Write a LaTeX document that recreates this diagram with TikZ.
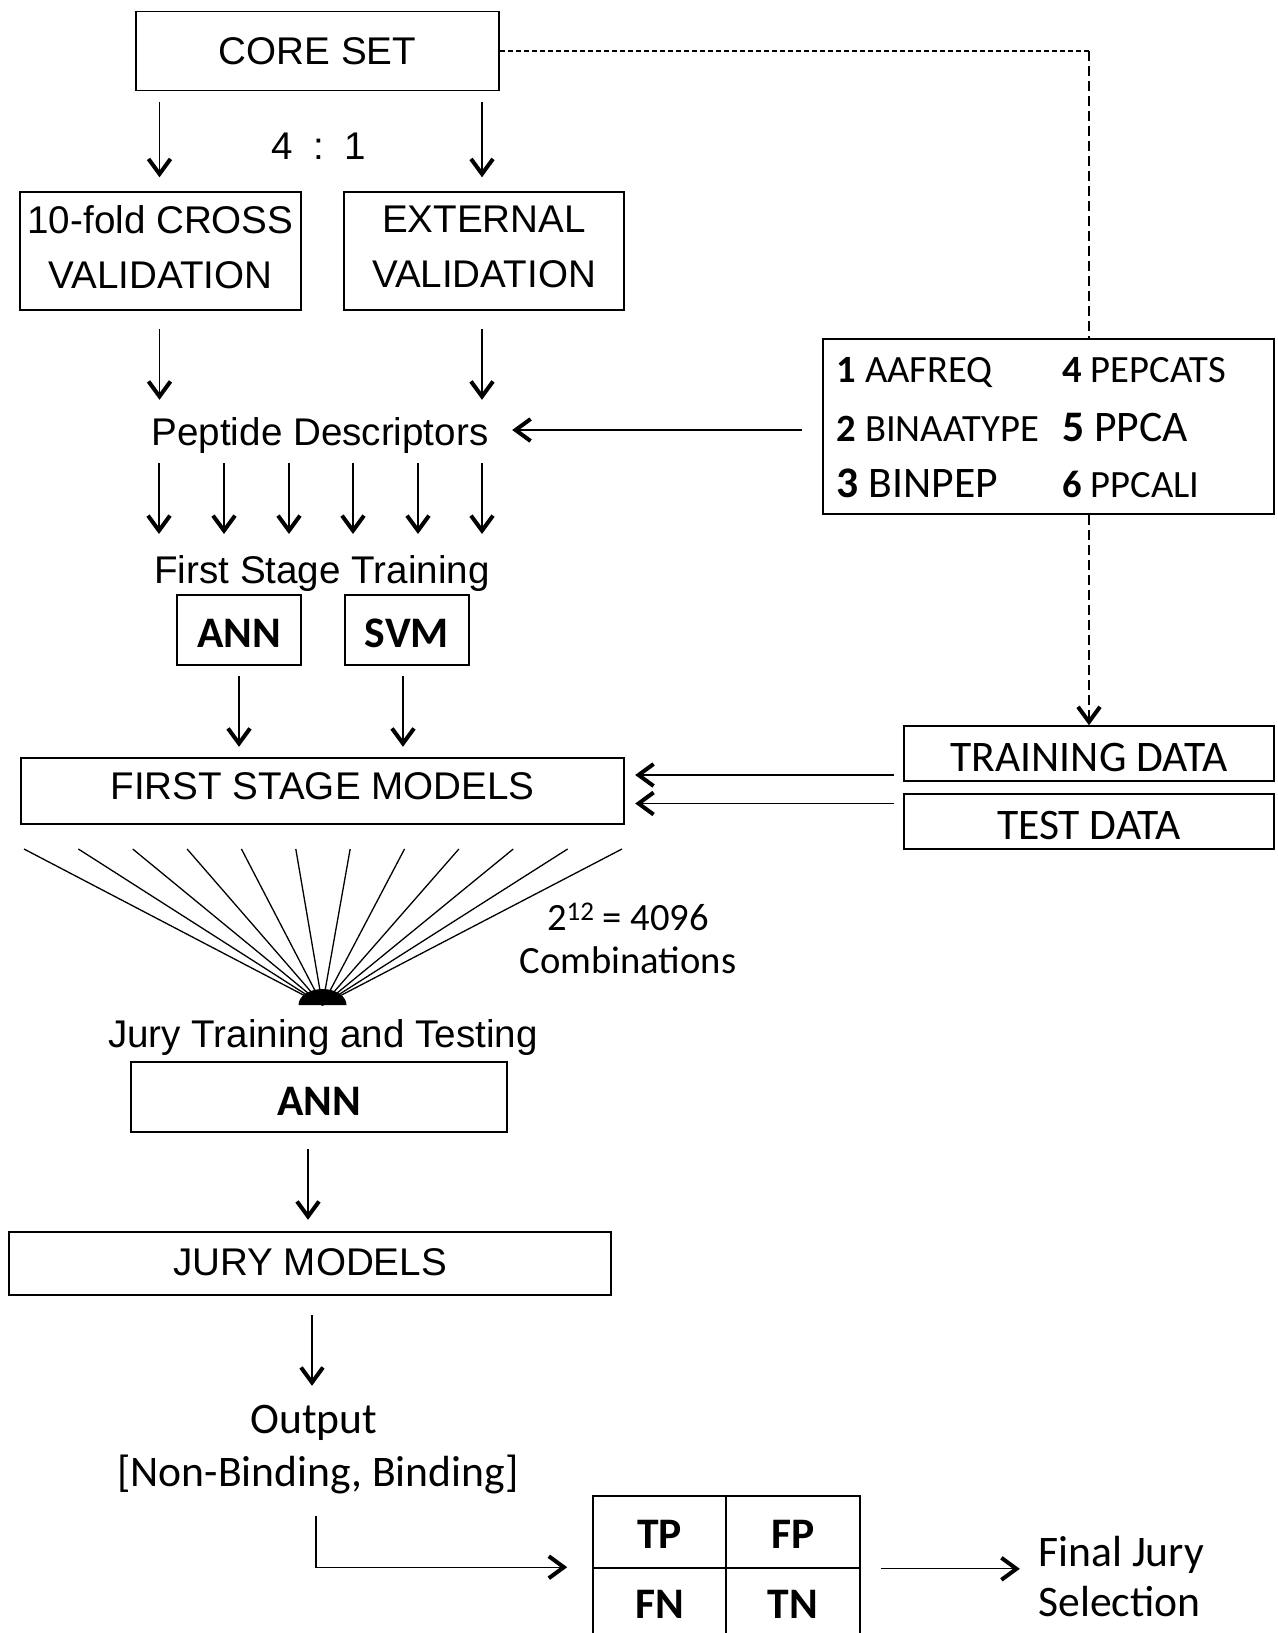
\documentclass[tikz,border=0pt]{standalone}
\usepackage{fontspec}
\setmainfont{Liberation Sans}
\newfontfamily\calib{Carlito}
\usetikzlibrary{arrows.meta,calc}
\tikzset{
 box/.style={draw, line width=0.8pt, inner sep=0pt, align=center},
 arial/.style={font=\fontsize{19.3}{27.5}\selectfont},
 calbig/.style={font=\calib\fontsize{21.8}{25}\selectfont},
 calbold/.style={font=\calib\bfseries\fontsize{21.8}{25}\selectfont},
 calsmall/.style={font=\calib\fontsize{19.3}{23}\selectfont},
 arr/.style={line width=0.65pt, -{Straight Barb[length=7.5pt,width=11pt,line width=2pt]}},
 plain/.style={line width=0.65pt},
 dashh/.style={line width=0.65pt, dash pattern=on 2.5pt off 1.5pt},
 dashv/.style={line width=0.65pt, dash pattern=on 5pt off 2.5pt},
 item/.style={inner sep=0pt, anchor=base west},
}
\begin{document}
\begin{tikzpicture}[x=0.5pt,y=-0.5pt]
\useasboundingbox (0,0) rectangle (1278,1633);
\fill[white] (0,0) rectangle (1278,1633);
\clip (0,0) rectangle (1278,1633);

% top part
\node[box, arial, minimum width=181.5pt, minimum height=39.5pt] (core) at (317.5,51) {CORE SET};
\node[arial] (ratio) at (319,146) {4\hspace{0.53em}:\hspace{0.53em}1};
\node[box, arial, minimum width=140.5pt, minimum height=59pt, text depth=4.2pt] (cv) at (160.5,251) {10-fold CROSS\\VALIDATION};
\node[box, arial, minimum width=140pt, minimum height=59pt, text depth=4.2pt] (ext) at (484,251) {EXTERNAL\\VALIDATION};
\draw[arr] (core.south -| cv.north) ++(-1,11) -- ++(0,75);
\draw[arr] (core.south -| ext.north) ++(-2,11) -- ++(0,75);

\node[arial] (pd) at (320,436) {Peptide Descriptors};
\draw[arr] (cv.south) ++(-1,18) -- ++(0,71);
\draw[arr] (ext.south) ++(-2,18) -- ++(0,71);

% descriptor box
\node[box, minimum width=225.5pt, minimum height=87.5pt] (dbox) at (1048.5,426.5) {};
\node[item, calsmall] (d1) at (836.5,382.5) {\textbf{1} AAFREQ};
\node[item, calsmall] (d2) at (836.5,441.7) {\textbf{2} BINAATYPE};
\node[item, calbig] (d3) at (836.5,497.5) {\textbf{3} BINPEP};
\node[item, calsmall] (d4) at (1062,382.5) {\textbf{4} PEPCATS};
\node[item, calbig] (d5) at (1062,441.7) {\textbf{5} PPCA};
\node[item, calsmall] (d6) at (1062,497.5) {\textbf{6} PPCALI};
\draw[arr] ([yshift=-1.75pt]dbox.west) ++(-20,0) -- ++(-290,0);

\node[arial] (fst) at (322,574) {First Stage Training};
\foreach \dx in {-80.5,-48,-15.5,16.5,49,81}
  \draw[arr] ([xshift=\dx pt]pd.center) ++(0,27) -- ++(0,71);

\node[box, calbold, minimum width=62pt, minimum height=35pt, text height=17.2pt, text depth=0pt] (ann1) at (239,630) {ANN};
\node[box, calbold, minimum width=62pt, minimum height=35pt, text height=17.2pt, text depth=0pt] (svm) at (407,630) {SVM};
\draw[arr] (ann1.south) ++(0,10) -- ++(0,71);
\draw[arr] ([xshift=-2pt]svm.south) ++(0,10) -- ++(0,71);

\node[box, arial, minimum width=301.5pt, minimum height=33pt, text height=13.8pt, text depth=5.2pt] (fsm) at (322.5,791) {FIRST STAGE MODELS};
\node[box, calbig, minimum width=185pt, minimum height=27.5pt, text height=18.2pt, text depth=0pt] (train) at (1089,753.5) {TRAINING DATA};
\node[box, calbig, minimum width=185pt, minimum height=27.5pt, text height=18.2pt, text depth=0pt] (test) at (1089,821.5) {TEST DATA};
\draw[arr] ([yshift=-10.75pt]train.west) ++(-9,0) -- ++(-259,0);
\draw[arr] ([yshift=9pt]test.west) ++(-9,0) -- ++(-259,0);

% dashed connectors
\coordinate (corner) at (core.east -| train.north);
\draw[dashh] (core.east) -- (corner);
\draw[dashv] (corner) -- (dbox.north -| train.north);
\draw[dashv, arr] (dbox.south -| train.north) -- (train.north);

% fan
\coordinate (jc) at (322.5,1005);
\foreach \i in {0,...,11}
  \draw[plain] ({24+\i*54.36},849) -- (jc);
\fill (298.5,1005) arc[start angle=180, end angle=360, x radius=24, y radius=16] -- cycle;

\node[calsmall] (comb1) at (628,917) {2\raisebox{0.55ex}{\fontsize{13.5}{14}\selectfont 12} = 4096};
\node[calsmall] (comb2) at (628,960) {Combinations};

\node[arial] (jt) at (323,1038) {Jury Training and Testing};
\node[box, calbold, minimum width=188pt, minimum height=35pt, text height=18.2pt, text depth=0pt] (jann) at (319,1097) {ANN};
\draw[arr] ([xshift=-5.5pt]jann.south) ++(0,16) -- ++(0,71);
\node[box, arial, minimum width=301pt, minimum height=31.5pt, text height=13.8pt, text depth=2pt] (jm) at (310,1263.5) {JURY MODELS};
\draw[arr] ([xshift=1pt]jm.south) ++(0,19) -- ++(0,71);

\node[calbig] (out) at (314,1423) {Output};
\node[calbig] (outb) at (318,1474) {[Non-Binding, Binding]};

% confusion matrix
\node[box, calbold, minimum width=66.5pt, minimum height=36pt, text height=16pt, text depth=0pt] (tp) at (659.5,1532) {TP};
\node[box, calbold, minimum width=67pt, minimum height=36pt, text height=16pt, text depth=0pt] (fp) at (793,1532) {FP};
\node[box, calbold, minimum width=66.5pt, minimum height=36pt, text height=14pt, text depth=0pt] (fn) at (659.5,1604) {FN};
\node[box, calbold, minimum width=67pt, minimum height=36pt, text height=14pt, text depth=0pt] (tn) at (793,1604) {TN};

\draw[arr] ([xshift=-1pt,yshift=-21pt]outb.center) |- ([xshift=-12.5pt]fn.north west);
\draw[arr] ([xshift=10pt]fp.south east) -- ++(139,0);

\node[item, calbig] (fin1) at (1038,1566) {Final Jury};
\node[item, calbig] (fin2) at (1038,1616) {Selection};
\end{tikzpicture}
\end{document}
